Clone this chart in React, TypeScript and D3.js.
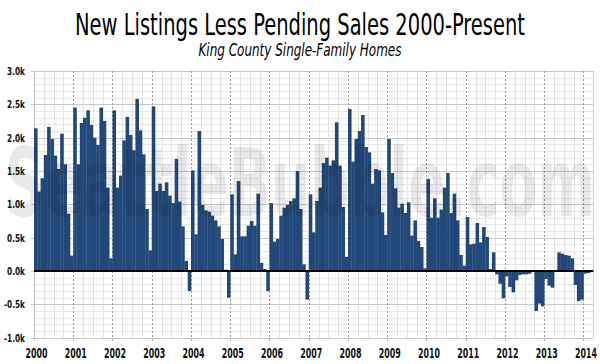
import React from "react";
import * as d3 from "d3";

const years = ["2000","2001","2002","2003","2004","2005","2006","2007","2008","2009","2010","2011","2012","2013","2014"];

// monthly values (thousands), Jan..Dec per year
const v2000 = [2.14, 1.19, 1.39, 1.74, 2.16, 1.98, 1.73, 1.53, 2.06, 1.60, 0.86, 0.23];
const v2001 = [2.45, 1.60, 2.22, 2.30, 2.41, 2.19, 2.00, 1.89, 2.45, 2.25, 1.25, 0.19];
const v2002 = [2.41, 1.25, 1.43, 1.96, 2.31, 2.04, 1.81, 2.58, 2.11, 1.75, 0.93, 0.31];
const v2003 = [2.47, 1.20, 1.31, 1.20, 1.33, 1.13, 1.02, 1.68, 1.04, 0.67, 0.15, -0.30];
const v2004 = [1.51, 0.55, 2.10, 0.99, 0.91, 0.89, 0.83, 0.76, 0.67, 0.48, 0.02, -0.40];
const v2005 = [1.15, 0.25, 1.35, 0.52, 0.52, 0.68, 0.75, 0.68, 1.16, 0.12, 0.03, -0.30];
const v2006 = [1.02, 0.44, 0.48, 0.83, 0.95, 0.99, 1.05, 1.09, 1.50, 0.93, 0.10, -0.43];
const v2007 = [1.15, 0.58, 1.05, 1.25, 1.62, 1.70, 1.58, 1.66, 2.23, 1.58, 0.96, 0.21];
const v2008 = [2.43, 1.64, 1.98, 2.10, 2.34, 1.86, 1.78, 1.31, 1.53, 1.51, 0.88, 0.54];
const v2009 = [1.98, 1.47, 1.24, 0.95, 1.01, 0.87, 1.03, 0.53, 0.76, 0.45, 0.36, 0.04];
const v2010 = [1.38, 0.80, 1.09, 0.80, 0.92, 1.25, 1.47, 0.87, 1.16, 0.76, 0.24, 0.08];
const v2011 = [0.81, 0.40, 0.41, 0.72, 0.43, 0.66, 0.51, 0.03, 0.28, -0.05, -0.19, -0.41];
const v2012 = [-0.08, -0.24, -0.32, -0.14, -0.06, -0.05, -0.05, -0.04, 0.0, -0.60, -0.49, -0.53];
const v2013 = [-0.12, -0.22, -0.25, 0.0, 0.28, 0.26, 0.24, 0.23, 0.19, -0.21, -0.45, -0.43];
const v2014 = [-0.04, -0.03];

const yTicks = [3.0, 2.5, 2.0, 1.5, 1.0, 0.5, 0.0, -0.5, -1.0];

const values: number[] = [
  ...v2000, ...v2001, ...v2002, ...v2003, ...v2004, ...v2005, ...v2006,
  ...v2007, ...v2008, ...v2009, ...v2010, ...v2011, ...v2012, ...v2013, ...v2014,
];

const W = 600;
const H = 364;
const left = 34;
const right = 593.3;

export default function App() {
  const x = d3.scaleLinear().domain([0, 171]).range([left, right]);
  const y = d3.scaleLinear().domain([-1, 3]).range([337.67, 71]);
  const bw = x(1) - x(0);

  const minor = d3.range(-10, 31).map((d) => d / 10).filter((d) => Math.abs((d * 10) % 5) !== 0);
  const quarters = d3.range(0, 172, 3).filter((m) => m % 12 !== 0);
  const yearMonths = d3.range(0, 172, 12);

  const labelFont = "'DejaVu Sans Condensed', 'Liberation Sans Narrow', sans-serif";

  return (
    <svg width={W} height={H} style={{ position: "absolute", left: 0, top: 0, background: "#fff" }}>
      <rect x={0} y={0} width={W} height={H} fill="#fff" />
      {minor.map((d) => (
        <line key={"hm" + d} x1={left} x2={right} y1={Math.round(y(d)) + 0.5} y2={Math.round(y(d)) + 0.5} stroke="#e8e8e8" />
      ))}
      {quarters.map((m) => (
        <line key={"q" + m} x1={Math.round(x(m)) + 0.5} x2={Math.round(x(m)) + 0.5} y1={y(3)} y2={y(-1)} stroke="#e3e3e3" />
      ))}
      {yTicks.map((d) => (
        <line key={"hM" + d} x1={left - 3} x2={right} y1={Math.round(y(d)) + 0.5} y2={Math.round(y(d)) + 0.5} stroke="#c9c9c9" />
      ))}
      {yearMonths.map((m) => (
        <line key={"y" + m} x1={Math.round(x(m)) + 0.5} x2={Math.round(x(m)) + 0.5} y1={y(3)} y2={y(-1) + 3}
          stroke={m === 0 ? "#bdbdbd" : "#9a9a9a"} strokeDasharray={m === 0 ? undefined : "2,2"} />
      ))}
      <line x1={Math.round(right) + 0.5} x2={Math.round(right) + 0.5} y1={y(3)} y2={y(-1)} stroke="#d0d0d0" />

      {values.map((v, i) => (
        <rect key={"b" + i} x={x(i)} width={bw + 0.3} y={y(Math.max(0, v))} height={Math.abs(y(v) - y(0))} fill="#22487a" />
      ))}

      <line x1={left} x2={right} y1={y(0)} y2={y(0)} stroke="#000" strokeWidth={2} />

      <text x={5} y={216} fontFamily="'DejaVu Sans Condensed', 'DejaVu Sans', sans-serif" fontWeight="bold" fontSize={95}
        textLength={590} lengthAdjust="spacingAndGlyphs" fill="#000" fillOpacity={0.085}>SeattleBubble.com</text>

      {yTicks.map((d) => (
        <text key={"yl" + d} x={25} y={y(d) + 4} textAnchor="end" fontFamily={labelFont} fontWeight="bold" fontSize={11}
          textLength={d < 0 ? 21 : 18} lengthAdjust="spacingAndGlyphs" fill="#111">
          {d.toFixed(1) + "k"}
        </text>
      ))}
      {yearMonths.map((m, i) => (
        <text key={"xl" + m} x={x(m) + 2.5} y={358} textAnchor="middle" fontFamily={labelFont} fontWeight="bold" fontSize={13.5}
          textLength={22} lengthAdjust="spacingAndGlyphs" fill="#111">
          {years[i]}
        </text>
      ))}

      <text x={300} y={35} textAnchor="middle" fontFamily="'Liberation Sans Narrow', 'DejaVu Sans Condensed', sans-serif" fontSize={31}
        textLength={450} lengthAdjust="spacingAndGlyphs" fill="#000">New Listings Less Pending Sales 2000-Present</text>
      <text x={300} y={56} textAnchor="middle" fontFamily="'Liberation Sans Narrow', 'DejaVu Sans Condensed', sans-serif" fontStyle="italic" fontSize={17}
        textLength={203} lengthAdjust="spacingAndGlyphs" fill="#000">King County Single-Family Homes</text>
    </svg>
  );
}
